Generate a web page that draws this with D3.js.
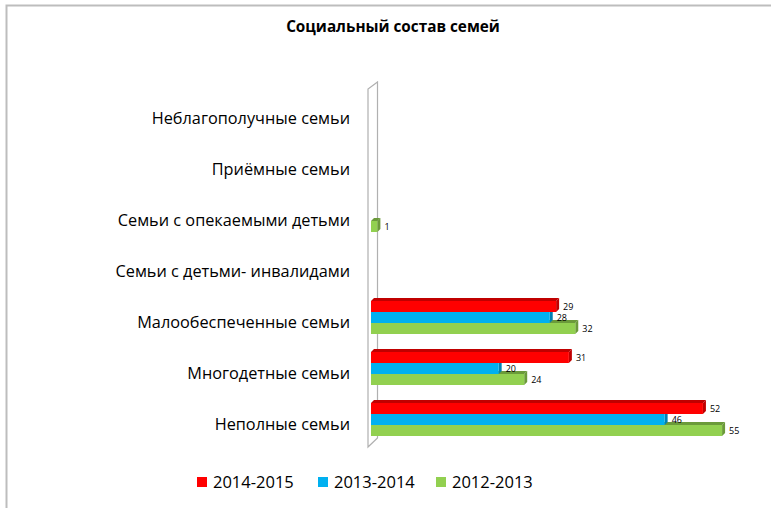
<!DOCTYPE html>
<html>
<head>
<meta charset="utf-8">
<script src="https://cdn.jsdelivr.net/npm/d3@7"></script>
<style>
    body { margin: 0; background: #fff; }
    text { font-family: "Open Sans", sans-serif; fill: #000; }
</style>
</head>
<body>
<div id="chart"></div>
<script>
// Categories, top to bottom
const categories = [
    "Неблагополучные семьи",
    "Приёмные семьи",
    "Семьи с опекаемыми детьми",
    "Семьи с детьми- инвалидами",
    "Малообеспеченные семьи",
    "Многодетные семьи",
    "Неполные семьи"
];
const seriesNames = ["2014-2015", "2013-2014", "2012-2013"];
const values2014 = [0, 0, 0, 0, 29, 31, 52];
const values2013 = [0, 0, 0, 0, 28, 20, 46];
const values2012 = [0, 0, 1, 0, 32, 24, 55];

const colors = ["#FF0000", "#00B0F0", "#92D050"];
const sideColors = ["#C00000", "#0080B4", "#6B9A3A"];

const width = 771, height = 508;
const depth = 3;

const svg = d3.select("#chart")
    .append("svg")
    .attr("width", width)
    .attr("height", height);

// Outer frame (top + left)
svg.append("path")
    .attr("d", "M6.5,508 L6.5,5.5 L771,5.5")
    .attr("fill", "none")
    .attr("stroke", "#bdbdbd")
    .attr("stroke-width", 2);

// Title
svg.append("text")
    .attr("x", 393).attr("y", 32)
    .attr("text-anchor", "middle")
    .style("font-size", "15.3px")
    .style("font-weight", "bold")
    .text("Социальный состав семей");

// Scales
const x = d3.scaleLinear().domain([0, 60]).range([371, 754]);
const y = d3.scaleBand().domain(categories).range([88, 445]).paddingInner(0).paddingOuter(0);
const inner = d3.scaleBand().domain(seriesNames).range([9, 42]);

// Wall
const wall = svg.append("g").attr("fill", "none").attr("stroke", "#b0b0b0").attr("stroke-width", 1.2);
wall.append("path").attr("d", "M368,89 L368,447 L377.5,438 L377.5,82 Z");

// Bars, drawn from the bottom series up so upper fronts cover lower tops
const series = [values2014, values2013, values2012];
const bars = svg.append("g");
for (let s = series.length - 1; s >= 0; s--) {
    categories.forEach(function (c, i) {
        const v = series[s][i];
        if (!v) return;
        const x0 = x(0), x1 = x(v);
        const y0 = y(c) + inner(seriesNames[s]);
        const h = inner.bandwidth();
        // top face
        bars.append("path")
            .attr("d", `M${x0},${y0} L${x0 + depth},${y0 - depth} L${x1 + depth},${y0 - depth} L${x1},${y0} Z`)
            .attr("fill", sideColors[s]);
        // side face
        bars.append("path")
            .attr("d", `M${x1},${y0} L${x1 + depth},${y0 - depth} L${x1 + depth},${y0 + h - depth} L${x1},${y0 + h} Z`)
            .attr("fill", sideColors[s]);
        // front face
        bars.append("rect")
            .attr("x", x0).attr("y", y0)
            .attr("width", x1 - x0).attr("height", h)
            .attr("fill", colors[s]);
        // value label
        bars.append("text")
            .attr("x", x1 + depth + 4)
            .attr("y", y0 + h / 2 + 3.5)
            .style("font-size", "9px")
            .text(v);
    });
}

// Category labels
svg.append("g").selectAll("text")
    .data(categories)
    .join("text")
    .attr("x", 350)
    .attr("y", d => y(d) + y.bandwidth() / 2 + 10)
    .attr("text-anchor", "end")
    .style("font-size", "16.3px")
    .text(d => d);

// Legend
const legendX = [197, 318, 436];
const legend = svg.append("g");
seriesNames.forEach(function (name, i) {
    legend.append("rect")
        .attr("x", legendX[i]).attr("y", 477)
        .attr("width", 10).attr("height", 10)
        .attr("fill", colors[i]);
    legend.append("text")
        .attr("x", legendX[i] + 16).attr("y", 488)
        .style("font-size", "16.5px")
        .text(name);
});
</script>
</body>
</html>
